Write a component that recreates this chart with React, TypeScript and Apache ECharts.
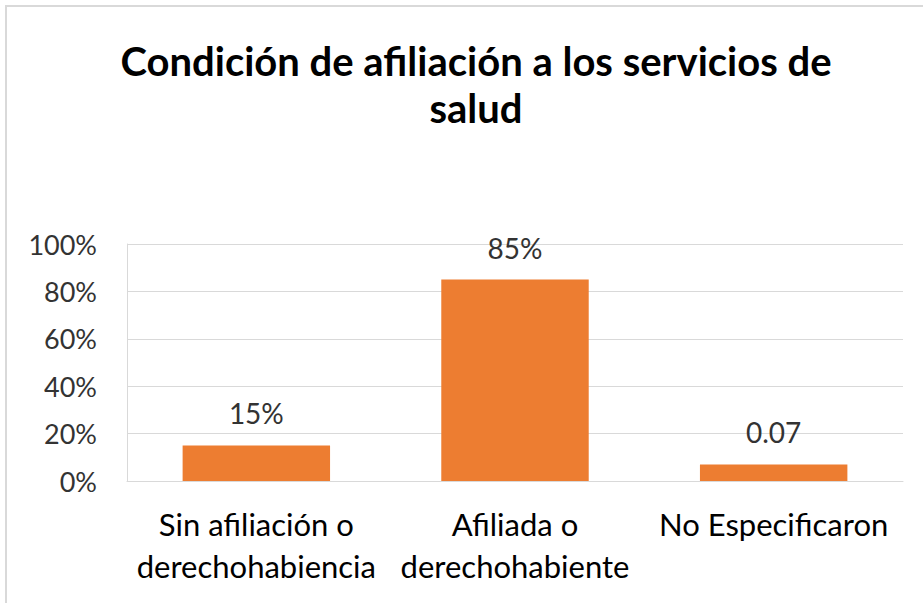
import React, { useEffect, useRef } from "react";
import * as echarts from "echarts";

const categories = ["Sin afiliación o\nderechohabiencia", "Afiliada o\nderechohabiente", "No Especificaron"];
const values = [0.15, 0.85, 0.07];
const valueLabels = ["15%", "85%", "0.07"];
const yTicks = [0, 0.2, 0.4, 0.6, 0.8, 1.0];

export default function App() {
  const ref = useRef<HTMLDivElement>(null);
  useEffect(() => {
    const chart = echarts.init(ref.current!, null, { renderer: "svg" });
    const font = "Lato, 'Open Sans', sans-serif";
    chart.setOption({
      animation: false,
      backgroundColor: "#ffffff",
      title: {
        text: "Condición de afiliación a los servicios de\nsalud",
        left: 471,
        textAlign: "center",
        top: 32,
        textStyle: { fontFamily: font, fontSize: 40, fontWeight: "bold", color: "#000000", lineHeight: 47 },
      },
      graphic: [
        {
          type: "rect",
          shape: { x: 6, y: 6, width: 940, height: 620 },
          style: { fill: "none", stroke: "#d9d9d9", lineWidth: 2 },
          silent: true,
        },
      ],
      grid: { left: 127, right: 20, top: 244, bottom: 122, containLabel: false },
      xAxis: {
        type: "category",
        data: categories,
        axisLine: { show: true, lineStyle: { color: "#d9d9d9", width: 1 } },
        axisTick: { show: false },
        axisLabel: { fontFamily: font, fontSize: 31, color: "#000000", lineHeight: 42, margin: 22, interval: 0 },
      },
      yAxis: {
        type: "value",
        min: 0,
        max: 1,
        interval: 0.2,
        axisLine: { show: true, lineStyle: { color: "#d9d9d9", width: 1 } },
        axisTick: { show: false },
        splitLine: { show: true, lineStyle: { color: "#d9d9d9", width: 1 } },
        axisLabel: {
          fontFamily: font,
          fontSize: 27,
          color: "#333333",
          margin: 30,
          formatter: (v: number) => {
            const t = yTicks.find((x) => Math.abs(x - v) < 1e-9);
            return t !== undefined ? Math.round(t * 100) + "%" : "";
          },
        },
      },
      series: [
        {
          type: "bar",
          data: values,
          barWidth: "57%",
          itemStyle: { color: "#ED7D31" },
          label: {
            show: true,
            position: "top",
            distance: 18,
            fontFamily: font,
            fontSize: 28,
            color: "#333333",
            formatter: (p: any) => valueLabels[p.dataIndex],
          },
        },
      ],
    });
    return () => chart.dispose();
  }, []);
  return <div ref={ref} style={{ position: "fixed", left: 0, top: 0, width: 923, height: 603 }} />;
}
